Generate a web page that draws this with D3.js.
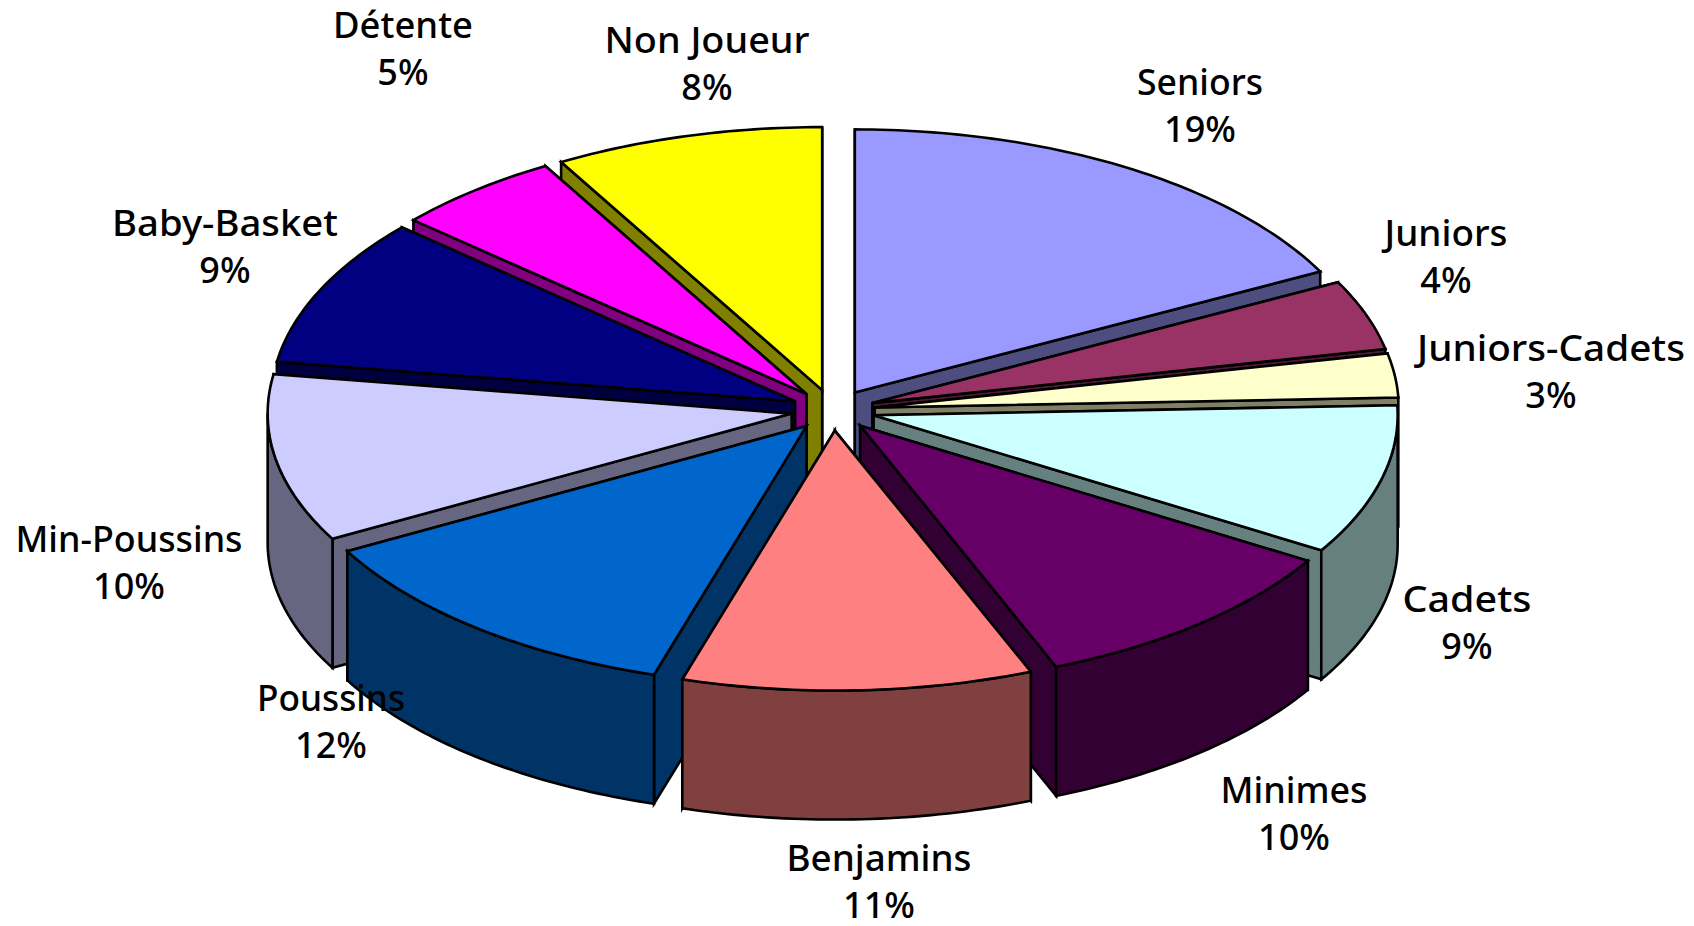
<!DOCTYPE html>
<html>
<head>
<meta charset="utf-8">
<script src="https://cdnjs.cloudflare.com/ajax/libs/d3/7.8.5/d3.min.js"></script>
<style>
  html, body { margin: 0; padding: 0; background: #fff; }
  svg { display: block; }
  .slice-label { font-family: "Noto Sans", sans-serif; font-size: 36px; font-weight: 500; fill: #000; text-anchor: middle; }
</style>
</head>
<body>
<div id="chart-area"></div>
<script>
// categories, clockwise from twelve o'clock
var categories = ['Seniors', 'Juniors', 'Juniors-Cadets', 'Cadets', 'Minimes', 'Benjamins',
    'Poussins', 'Min-Poussins', 'Baby-Basket', 'Détente', 'Non Joueur'];
// printed percentages
var percents = [19, 4, 3, 9, 10, 11, 12, 10, 9, 5, 8];
var shares = [17.4, 4.3, 2.7, 9.3, 10.2, 10.8, 12.3, 10.4, 9.1, 5.2, 8.3];
var topColors = ['#9999ff', '#993366', '#ffffcc', '#ccffff', '#660066', '#ff8080',
    '#0066cc', '#ccccff', '#000080', '#ff00ff', '#ffff00'];
var wallColors = ['#4d4d80', '#4d1933', '#808066', '#668080', '#330033', '#804040',
    '#003366', '#666680', '#000040', '#800080', '#808000'];

var width = 1694, height = 926;
var cx = 833, cy = 410;
var rx = 524, ryBack = 263, ryFront = 260;
var depth = 129, explode = 42;

// label anchor: centre x, first baseline, width of the name
var labelPos = [[1200, 95, 126], [1446, 246, 123], [1551, 361, 268], [1467, 612, 129], [1294, 803, 147], [879, 871, 185],
    [331, 711, 148], [129, 552, 227], [225, 236, 226], [403, 38, 140], [707, 53, 205]];
var lineGap = 47;

var svg = d3.select('#chart-area')
    .append('svg')
    .attr('width', width)
    .attr('height', height);

var pie = d3.pie().sort(null)(shares);

function rim(a) {
    var c = Math.cos(a);
    return [rx * Math.sin(a), -(c > 0 ? ryBack : ryFront) * c];
}

var line = d3.line();

function arcPoints(a0, a1) {
    var n = Math.max(2, Math.ceil((a1 - a0) * 60));
    return d3.range(n + 1).map(i => rim(a0 + (a1 - a0) * i / n));
}

var slices = pie.map((d, i) => {
    var mid = (d.startAngle + d.endAngle) / 2;
    return {
        i: i,
        mid: mid,
        a0: d.startAngle,
        a1: d.endAngle,
        dx: cx + explode * Math.sin(mid),
        dy: cy - explode * 0.49 * Math.cos(mid),
    };
});

// back slices first, front slices paint over them
var ordered = slices.slice().sort((a, b) => Math.cos(b.mid) - Math.cos(a.mid));

ordered.forEach(s => {
    var g = svg.append('g')
        .attr('transform', `translate(${s.dx}, ${s.dy})`)
        .attr('stroke', '#000')
        .attr('stroke-width', 2.6)
        .attr('stroke-linejoin', 'miter');

    // the cut face further back goes first
    [s.a0, s.a1].sort((a, b) => rim(a)[1] - rim(b)[1]).forEach(a => {
        var p = rim(a);
        g.append('path')
            .attr('d', line([[0, 0], p, [p[0], p[1] + depth], [0, depth]]) + 'Z')
            .attr('fill', wallColors[s.i]);
    });

    // outer wall only on the part that faces us
    var w0 = Math.max(s.a0, Math.PI / 2), w1 = Math.min(s.a1, Math.PI * 1.5);
    if (w1 > w0) {
        var front = arcPoints(w0, w1);
        var lower = front.map(p => [p[0], p[1] + depth]).reverse();
        g.append('path')
            .attr('d', line(front.concat(lower)) + 'Z')
            .attr('fill', wallColors[s.i]);
    }

    g.append('path')
        .attr('d', line([[0, 0]].concat(arcPoints(s.a0, s.a1))) + 'Z')
        .attr('fill', topColors[s.i]);
});

categories.forEach((name, i) => {
    var t = svg.append('text')
        .attr('class', 'slice-label')
        .attr('x', labelPos[i][0])
        .attr('y', labelPos[i][1]);
    t.append('tspan')
        .attr('textLength', labelPos[i][2])
        .attr('lengthAdjust', 'spacingAndGlyphs')
        .text(name);
    t.append('tspan')
        .attr('x', labelPos[i][0])
        .attr('dy', lineGap)
        .text(percents[i] + '%');
});
</script>
</body>
</html>
